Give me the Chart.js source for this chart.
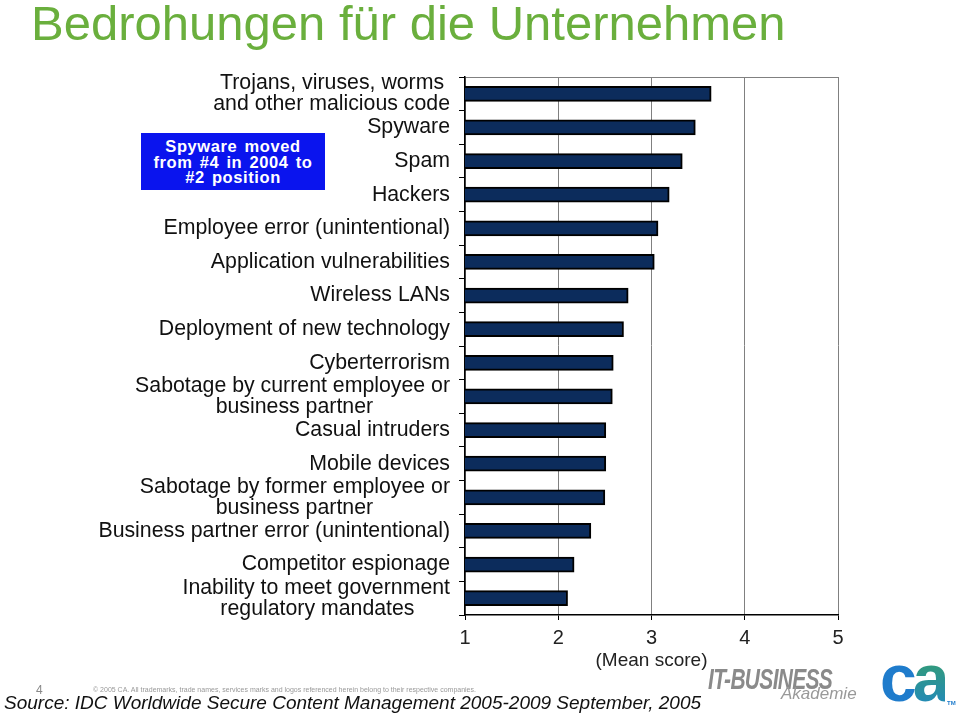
<!DOCTYPE html>
<html>
<head>
<meta charset="utf-8">
<script src="https://cdn.jsdelivr.net/npm/chart.js@4"></script>
<style>
  body { margin: 0; background: #fff; font-family: "Liberation Sans", Arial, sans-serif; }
  #wrap { position: relative; width: 959px; height: 715px; overflow: hidden; }
  #chart { position: absolute; left: 0; top: 0; }
  .abs { position: absolute; white-space: nowrap; }
  #title { left: 31px; top: -5px; font-size: 49px; color: #6aaf3d; }
  #note { left: 141px; top: 133px; width: 184px; height: 57px; background: #0a14ee; color: #fff;
          font-weight: bold; font-size: 16.5px; line-height: 15.7px; letter-spacing: 0.6px; word-spacing: 2px;
          text-align: center; padding-top: 6px; box-sizing: border-box; }
  #page { left: 36px; top: 683px; font-size: 12px; color: #888; }
  #copy { left: 93px; top: 686px; font-size: 7px; color: #999; }
  #source { left: 4px; top: 692px; font-size: 19px; font-style: italic; color: #111; }
  #itb { left: 708px; top: 662px; font-size: 30px; font-weight: bold; font-style: italic; color: #8a8a8a;
         transform: scaleX(0.7); transform-origin: left; letter-spacing: -1px; }
  #aka { left: 781px; top: 684px; font-size: 17px; font-style: italic; color: #999; }
  #ca { left: 880px; top: 640px; font-size: 66px; font-weight: bold; letter-spacing: -4px; }
  #ca .c { color: #1f7ccc; }
  #ca .a { background: linear-gradient(#3aa35a, #1f86c8); -webkit-background-clip: text; background-clip: text; color: transparent; }
  #tm { left: 947px; top: 700px; font-size: 6px; color: #1f7ccc; font-weight: bold; }
</style>
</head>
<body>
<div id="wrap">
  <canvas id="chart" width="959" height="715"></canvas>
  <div class="abs" id="title">Bedrohungen für die Unternehmen</div>
  <div class="abs" id="note">Spyware moved<br>from #4 in 2004 to<br>#2 position</div>
  <div class="abs" id="page">4</div>
  <div class="abs" id="copy">© 2005 CA. All trademarks, trade names, services marks and logos referenced herein belong to their respective companies.</div>
  <div class="abs" id="source">Source: IDC Worldwide Secure Content Management 2005-2009 September, 2005</div>
  <div class="abs" id="itb">IT-BUSINESS</div>
  <div class="abs" id="aka">Akademie</div>
  <div class="abs" id="ca"><span class="c">c</span><span class="a">a</span></div>
  <div class="abs" id="tm">TM</div>
</div>
<script>
const threats = [
    ["Trojans, viruses, worms", "and other malicious code"],
    "Spyware",
    "Spam",
    "Hackers",
    "Employee error (unintentional)",
    "Application vulnerabilities",
    "Wireless LANs",
    "Deployment of new technology",
    "Cyberterrorism",
    ["Sabotage by current employee or", "business partner"],
    "Casual intruders",
    "Mobile devices",
    ["Sabotage by former employee or", "business partner"],
    "Business partner error (unintentional)",
    "Competitor espionage",
    ["Inability to meet government", "regulatory mandates"],
];
const meanScores = [3.64, 3.47, 3.33, 3.19, 3.07, 3.03, 2.75, 2.70, 2.59, 2.58, 2.51, 2.51, 2.50, 2.35, 2.17, 2.10];
const scoreTicks = [1, 2, 3, 4, 5];

const fontFamily = "'Liberation Sans', Arial, sans-serif";
const labelSize = 21.3;

// multi-line labels are centred on each other, so pad the short lines with spaces
function centerLines(labels) {
    const m = document.createElement("canvas").getContext("2d");
    m.font = labelSize + "px " + fontFamily;
    const sp = m.measureText(" ").width;
    return labels.map(l => {
        if (!Array.isArray(l)) return l;
        const widest = Math.max(...l.map(s => m.measureText(s).width));
        return l.map(s => {
            const n = Math.round((widest - m.measureText(s).width) / 2 / sp);
            return s + " ".repeat(n);
        });
    });
}

const ctx = document.getElementById("chart").getContext("2d");
new Chart(ctx, {
    type: "bar",
    data: {
        labels: centerLines(threats),
        datasets: [{
            data: meanScores,
            backgroundColor: "#0c2c5c",
            borderColor: "#000",
            borderWidth: 2,
            borderSkipped: false,
            barThickness: 15,
        }],
    },
    options: {
        indexAxis: "y",
        responsive: false,
        animation: false,
        layout: { padding: { left: 0, top: 77, right: 121, bottom: 45 } },
        plugins: { legend: { display: false }, tooltip: { enabled: false } },
        scales: {
            x: {
                min: 1,
                max: 5,
                afterBuildTicks: (s) => { s.ticks = scoreTicks.map(v => ({ value: v })); },
                afterFit: (s) => { s.height = 55; },
                grid: { color: "#808080", lineWidth: 1, tickColor: "#000", tickLength: 5 },
                border: { color: "#000", width: 1.5 },
                ticks: { color: "#222", font: { size: 20, family: fontFamily }, padding: 6 },
                title: { display: true, text: "(Mean score)", color: "#222", padding: 0,
                         font: { size: 19, family: fontFamily, lineHeight: 1.0 } },
            },
            y: {
                afterFit: (s) => { s.width = 465; },
                grid: {
                    offset: true,
                    drawOnChartArea: true,
                    color: (c) => c.index === 0 ? "#808080" : "rgba(0,0,0,0)",
                    tickColor: "#000",
                    tickLength: 6,
                },
                border: { color: "#000", width: 1.5 },
                ticks: { autoSkip: false, color: "#111", font: { size: labelSize, family: fontFamily, lineHeight: 0.99 }, padding: 9 },
            },
        },
    },
});
</script>
</body>
</html>
